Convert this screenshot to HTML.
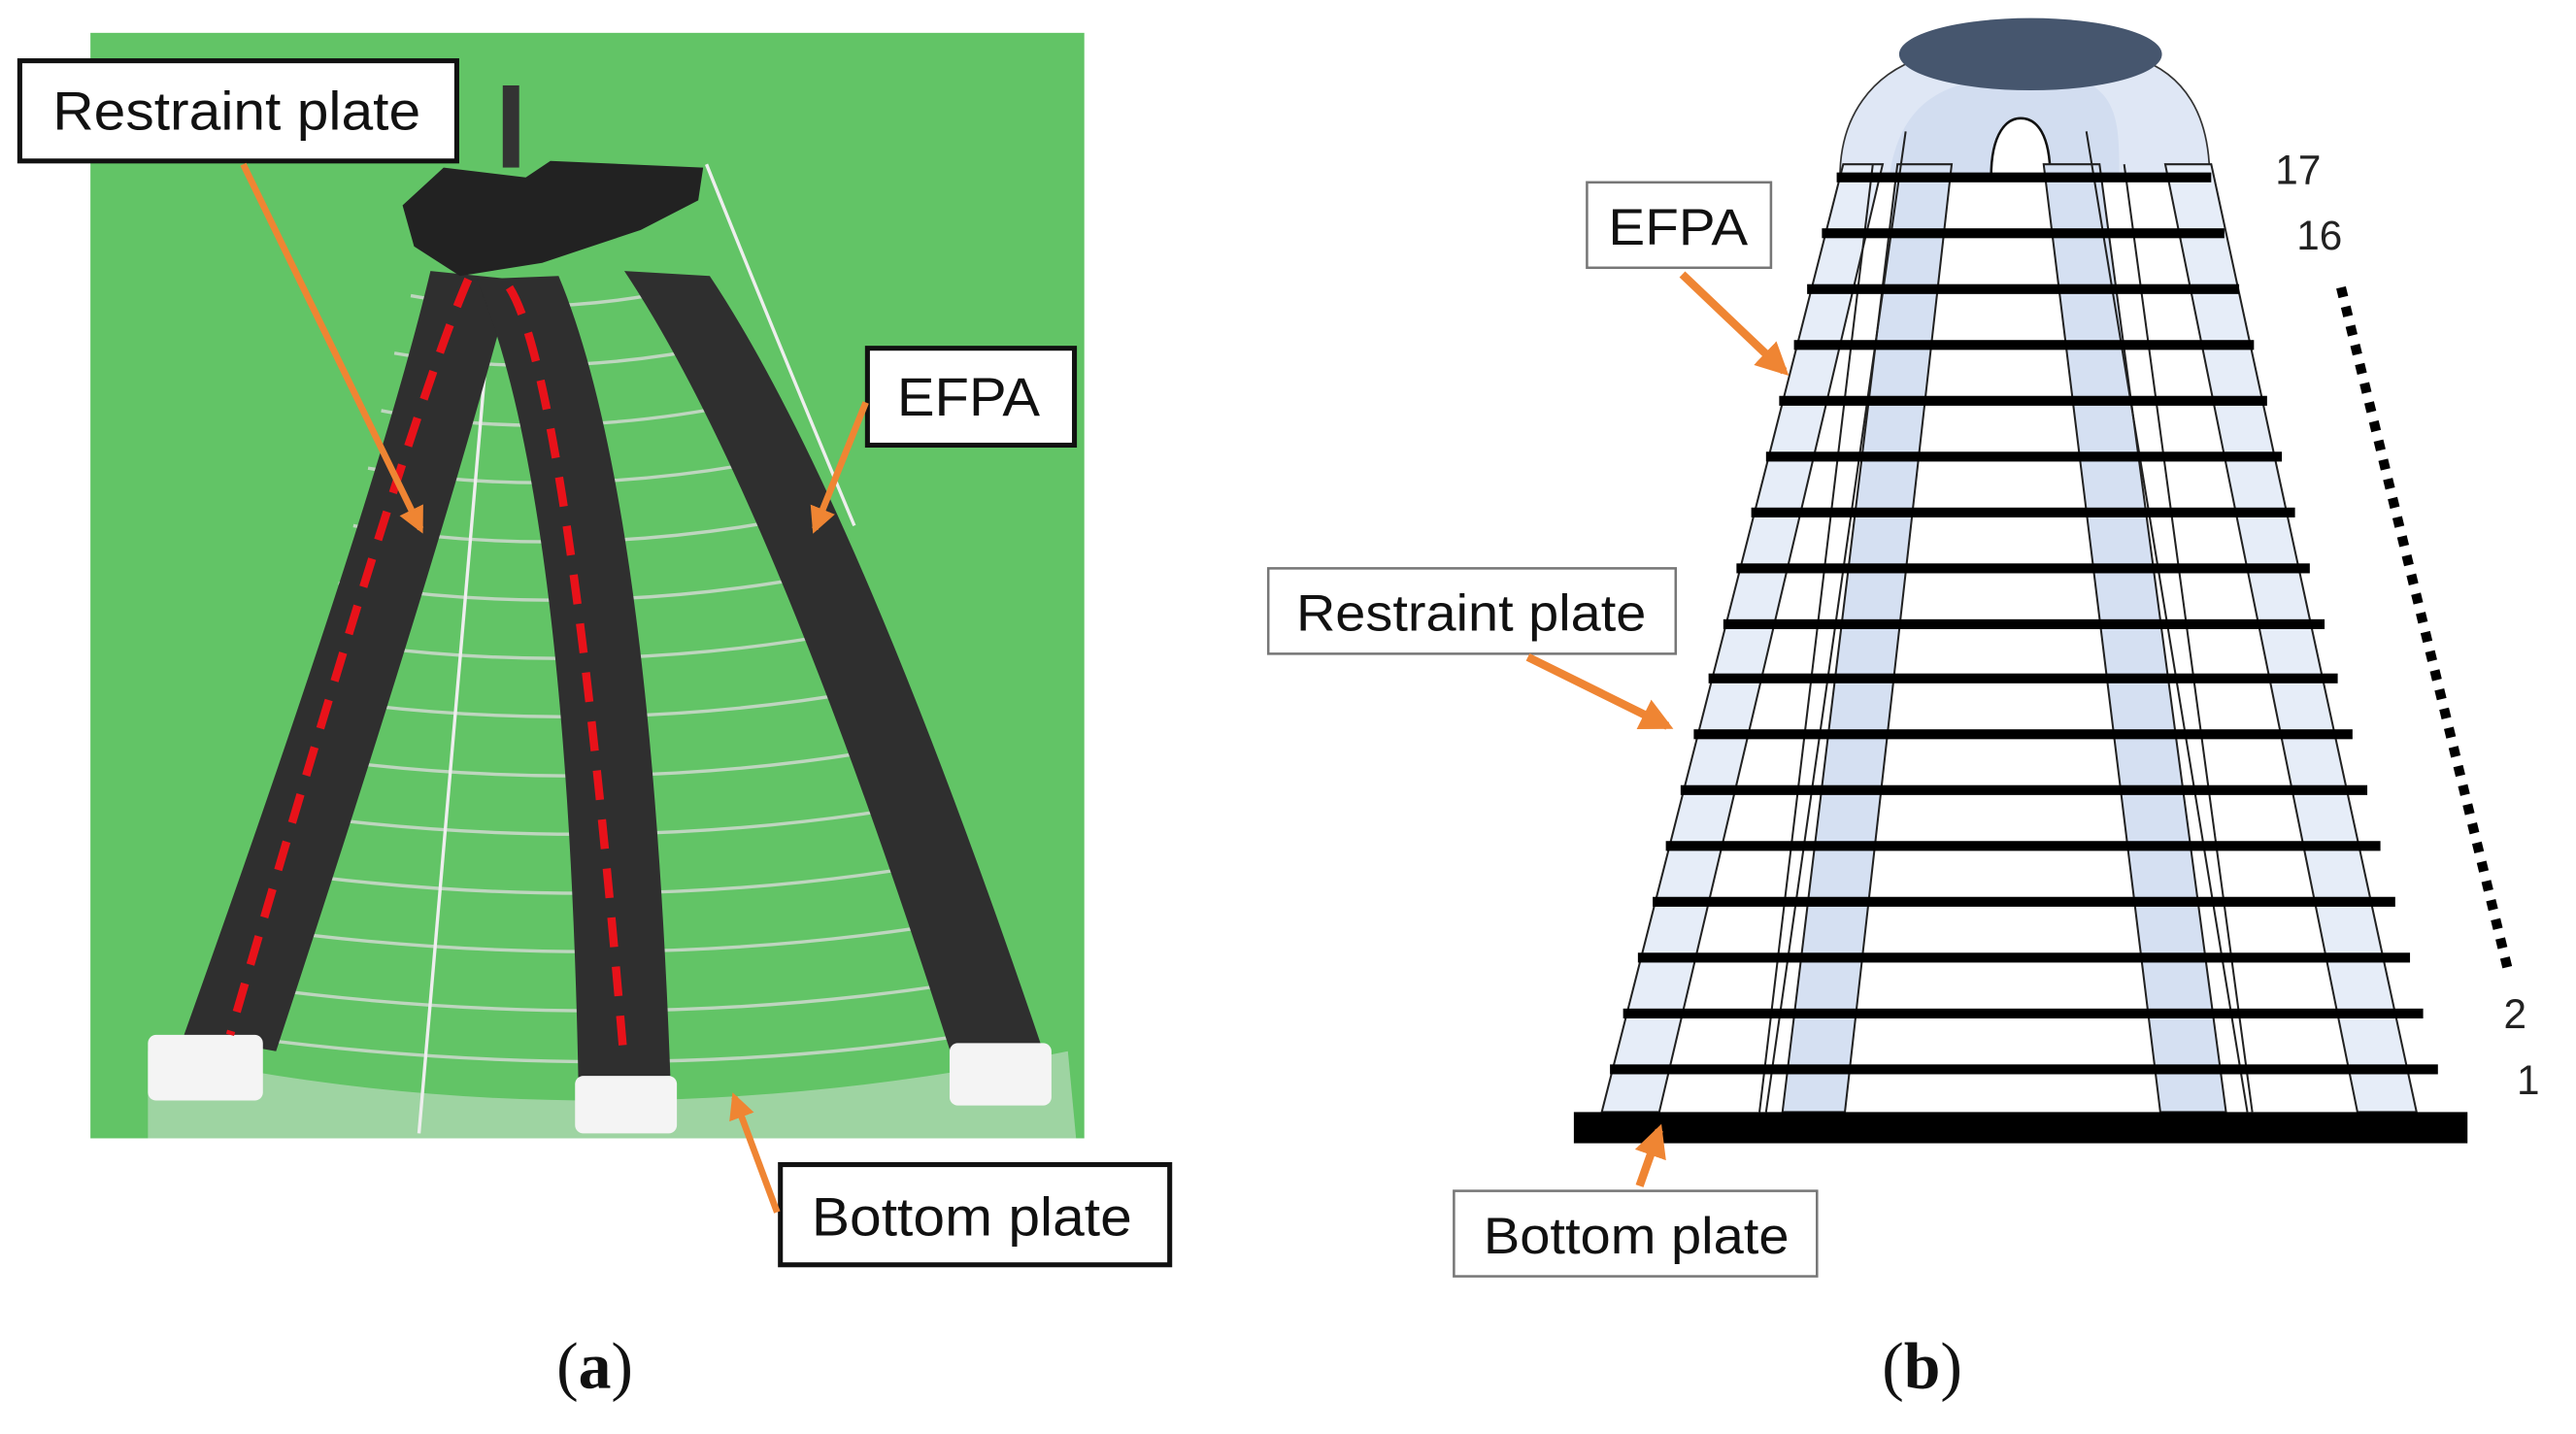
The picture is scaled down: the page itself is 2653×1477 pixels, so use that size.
<!DOCTYPE html>
<html><head><meta charset="utf-8"><style>html,body{margin:0;padding:0;background:#fff}svg{display:block}</style></head>
<body>
<svg width="2653" height="1477" viewBox="0 0 1568 873" xmlns="http://www.w3.org/2000/svg" font-family="Liberation Sans, sans-serif">
<defs>
<marker id="ah" viewBox="0 0 10 10" refX="8" refY="5" markerWidth="4" markerHeight="4" orient="auto"><path d="M0,0L10,5L0,10z" fill="#ef8533"/></marker>
</defs>
<rect x="55" y="20" width="605" height="673" fill="#62c466"/>
<path d="M90,640 Q360,700 650,640 L655,693 L90,693z" fill="#b8dcbc" opacity="0.7"/>
<g stroke="#c9d8c9" stroke-width="2" fill="none" opacity="0.9">
<path d="M250,180 Q330,195 420,175"/><path d="M240,215 Q335,232 440,210"/><path d="M232,250 Q335,270 455,245"/>
<path d="M224,285 Q340,305 470,280"/><path d="M215,320 Q345,342 485,315"/><path d="M206,355 Q350,378 500,350"/>
<path d="M198,390 Q355,414 515,385"/><path d="M190,425 Q360,450 530,420"/><path d="M180,460 Q365,487 545,455"/>
<path d="M172,495 Q370,523 560,490"/><path d="M163,530 Q375,560 575,525"/><path d="M155,565 Q380,596 590,560"/>
<path d="M146,600 Q385,633 605,595"/><path d="M138,630 Q390,665 620,625"/>
</g>
<path d="M300,170 L255,690" stroke="#eee" stroke-width="2"/>
<path d="M430,100 Q470,200 520,320" stroke="#eee" stroke-width="2" fill="none"/>
<path d="M262,165 Q230,300 112,630 L168,640 Q270,330 312,170z" fill="#2f2f2f"/>
<path d="M290,170 Q345,300 352,658 L408,655 Q395,300 340,168z" fill="#2f2f2f"/>
<path d="M380,165 Q470,300 580,645 L635,640 Q520,300 432,168z" fill="#2f2f2f"/>
<path d="M245,125 L270,102 L320,108 L335,98 L428,102 L425,122 L390,140 L330,160 L280,168 L252,150z" fill="#222"/>
<rect x="306" y="52" width="10" height="50" fill="#333"/>
<rect x="90" y="630" width="70" height="40" rx="5" fill="#f4f4f4"/>
<rect x="350" y="655" width="62" height="35" rx="5" fill="#f4f4f4"/>
<rect x="578" y="635" width="62" height="38" rx="5" fill="#f4f4f4"/>
<path d="M285,170 Q250,250 140,630" stroke="#e8121a" stroke-width="5" stroke-dasharray="18 12" fill="none"/>
<path d="M310,175 Q345,230 380,648" stroke="#e8121a" stroke-width="5" stroke-dasharray="18 12" fill="none"/>
<g fill="#fff" stroke="#111" stroke-width="3">
<rect x="12" y="37" width="266" height="61"/><rect x="528" y="212" width="126" height="59"/><rect x="475" y="709" width="237" height="61"/>
</g>
<g font-size="33" fill="#111">
<text x="32" y="79" textLength="224" lengthAdjust="spacingAndGlyphs">Restraint plate</text>
<text x="546" y="253" textLength="87" lengthAdjust="spacingAndGlyphs">EFPA</text>
<text x="494" y="752" textLength="195" lengthAdjust="spacingAndGlyphs">Bottom plate</text>
</g>
<g stroke="#ef8533" stroke-width="4" fill="none" marker-end="url(#ah)">
<line x1="148" y1="100" x2="256" y2="322"/><line x1="527" y1="245" x2="496" y2="322"/><line x1="473" y1="738" x2="447" y2="668"/>
</g>
<!-- Panel b -->
<path d="M1120,108 C1120,70 1140,45 1170,35 L1300,35 C1330,45 1345,70 1345,108z" fill="#dfe7f5" stroke="#333" stroke-width="1"/>
<path d="M1150,108 C1155,70 1175,55 1200,50 L1270,50 C1290,60 1290,80 1290,108z" fill="#d2ddf0"/>
<path d="M1212,108 C1212,80 1222,72 1230,72 C1240,72 1248,82 1248,108z" fill="#fff" stroke="#111" stroke-width="1.5"/>
<g stroke="#222" stroke-width="1.2">
<path d="M1122,100 L1146,100 L1010,677 L975,677z" fill="#e6edf8"/>
<path d="M1155,100 L1188,100 L1123,677 L1085,677z" fill="#d5e0f2"/>
<path d="M1244,100 L1278,100 L1355,677 L1315,677z" fill="#d5e0f2"/>
<path d="M1318,100 L1346,100 L1471,677 L1435,677z" fill="#e6edf8"/>
<line x1="1140" y1="100" x2="1071" y2="677"/><line x1="1293" y1="100" x2="1371" y2="677"/>
<line x1="1160" y1="80" x2="1075" y2="677"/><line x1="1270" y1="80" x2="1368" y2="677"/>
</g>
<ellipse cx="1236" cy="33" rx="80" ry="22" fill="#46566e"/>
<g fill="#000">
<rect x="1118" y="105" width="228" height="6"/><rect x="1109" y="139" width="245" height="6"/><rect x="1100" y="173" width="263" height="6"/>
<rect x="1092" y="207" width="280" height="6"/><rect x="1083" y="241" width="297" height="6"/><rect x="1075" y="275" width="314" height="6"/>
<rect x="1066" y="309" width="331" height="6"/><rect x="1057" y="343" width="349" height="6"/><rect x="1049" y="377" width="366" height="6"/>
<rect x="1040" y="410" width="383" height="6"/><rect x="1031" y="444" width="401" height="6"/><rect x="1023" y="478" width="418" height="6"/>
<rect x="1014" y="512" width="435" height="6"/><rect x="1006" y="546" width="452" height="6"/><rect x="997" y="580" width="470" height="6"/>
<rect x="988" y="614" width="487" height="6"/><rect x="980" y="648" width="504" height="6"/>
<rect x="958" y="677" width="544" height="19"/>
</g>
<line x1="1425" y1="175" x2="1527" y2="592" stroke="#000" stroke-width="6" stroke-dasharray="6 6"/>
<g font-size="25" fill="#222"><text x="1385" y="112">17</text><text x="1398" y="152">16</text><text x="1524" y="626">2</text><text x="1532" y="666">1</text></g>
<g fill="#fff" stroke="#777" stroke-width="1.5">
<rect x="966" y="111" width="112" height="52"/><rect x="772" y="346" width="248" height="52"/><rect x="885" y="725" width="221" height="52"/>
</g>
<g font-size="31" fill="#111">
<text x="979" y="149" textLength="85" lengthAdjust="spacingAndGlyphs">EFPA</text>
<text x="789" y="384" textLength="213" lengthAdjust="spacingAndGlyphs">Restraint plate</text>
<text x="903" y="763" textLength="186" lengthAdjust="spacingAndGlyphs">Bottom plate</text>
</g>
<g stroke="#ef8533" stroke-width="5" fill="none" marker-end="url(#ah)">
<line x1="1024" y1="167" x2="1086" y2="226"/><line x1="930" y1="400" x2="1015" y2="442"/><line x1="998" y1="722" x2="1010" y2="688"/>
</g>
<g font-family="Liberation Serif, serif" font-size="40" fill="#111">
<text x="362" y="845" text-anchor="middle">(<tspan font-weight="bold">a</tspan>)</text>
<text x="1170" y="845" text-anchor="middle">(<tspan font-weight="bold">b</tspan>)</text>
</g>
</svg>
</body></html>
